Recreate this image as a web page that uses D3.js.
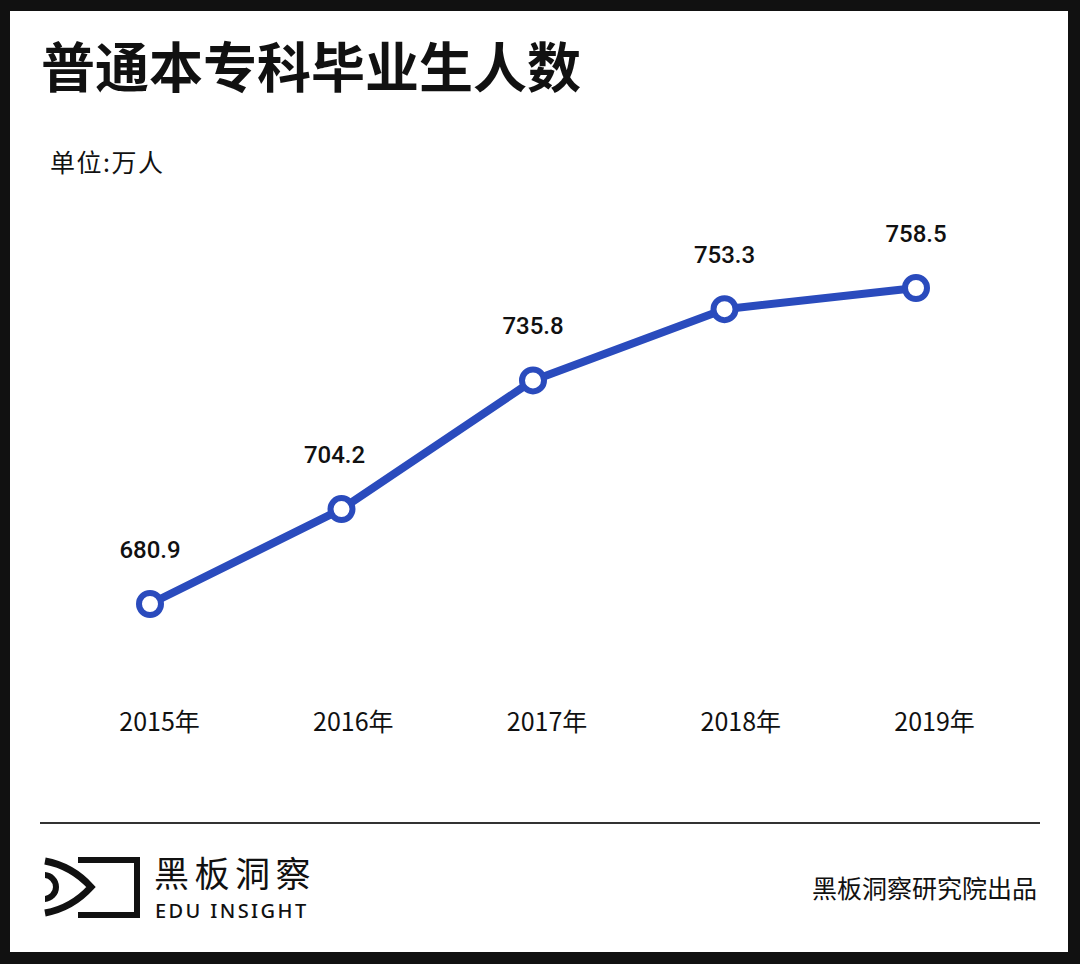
<!DOCTYPE html>
<html>
<head>
<meta charset="utf-8">
<script src="https://cdn.jsdelivr.net/npm/d3@7"></script>
<style>
  html, body { margin: 0; padding: 0; background: #111; }
  svg { display: block; }
</style>
</head>
<body>
<div id="chart"></div>
<script>
// data
const years = ['2015年', '2016年', '2017年', '2018年', '2019年'];
const graduates = [680.9, 704.2, 735.8, 753.3, 758.5];

const W = 1080, H = 964;
const CJK = '"Noto Sans CJK SC", "Noto Sans", sans-serif';

const svg = d3.select('#chart').append('svg')
  .attr('width', W)
  .attr('height', H);

// black frame with white card
svg.append('rect').attr('width', W).attr('height', H).attr('fill', '#111');
svg.append('rect')
  .attr('x', 10).attr('y', 11)
  .attr('width', 1058).attr('height', 941)
  .attr('fill', '#fff');

// title + unit
svg.append('text')
  .attr('x', 41).attr('y', 88)
  .attr('font-family', CJK)
  .attr('font-weight', 700)
  .attr('font-size', 54)
  .attr('fill', '#111')
  .text('普通本专科毕业生人数');

svg.append('text')
  .attr('x', 50).attr('y', 172)
  .attr('font-family', CJK)
  .attr('font-size', 25)
  .attr('letter-spacing', 1.5)
  .attr('fill', '#111')
  .text('单位:万人');

// scales
const x = d3.scalePoint().domain(years).range([150, 916]);
const xLabel = d3.scalePoint().domain(years).range([159, 934]);
const y = d3.scaleLinear().domain([680.9, 758.5]).range([604, 288]);

const data = years.map((yr, i) => ({ year: yr, value: graduates[i] }));
const blue = '#2a4bbd';

const line = d3.line()
  .x(d => x(d.year))
  .y(d => y(d.value));

svg.append('path')
  .datum(data)
  .attr('d', line)
  .attr('fill', 'none')
  .attr('stroke', blue)
  .attr('stroke-width', 8)
  .attr('stroke-linejoin', 'round');

svg.selectAll('circle.pt')
  .data(data)
  .enter()
  .append('circle')
  .attr('class', 'pt')
  .attr('cx', d => x(d.year))
  .attr('cy', d => y(d.value))
  .attr('r', 11)
  .attr('fill', '#fff')
  .attr('stroke', blue)
  .attr('stroke-width', 6);

svg.selectAll('text.val')
  .data(data)
  .enter()
  .append('text')
  .attr('class', 'val')
  .attr('x', d => x(d.year) - (d.year === '2016年' ? 7 : 0))
  .attr('y', d => y(d.value) - 46)
  .attr('text-anchor', 'middle')
  .attr('font-family', 'Roboto, sans-serif')
  .attr('font-weight', 500)
  .attr('font-size', 24)
  .attr('fill', '#111')
  .text(d => d.value.toFixed(1));

// x axis labels (no line, no ticks)
const xAxis = d3.axisBottom(xLabel).tickSize(0).tickPadding(0);
const axisG = svg.append('g')
  .attr('transform', 'translate(0,711)')
  .call(xAxis);
axisG.select('.domain').remove();
axisG.selectAll('text')
  .attr('font-family', CJK)
  .attr('font-size', 25)
  .attr('fill', '#111')
  .attr('dy', '0.8em');

// footer rule
svg.append('line')
  .attr('x1', 40).attr('x2', 1040)
  .attr('y1', 823).attr('y2', 823)
  .attr('stroke', '#333')
  .attr('stroke-width', 2);

// logo
const logo = svg.append('g');
logo.append('path')
  .attr('d', 'M78,860 H137 V915 H78')
  .attr('fill', 'none')
  .attr('stroke', '#111')
  .attr('stroke-width', 6);
logo.append('path')
  .attr('d', 'M45,861 Q72,866 91,887 Q72,908 45,913')
  .attr('fill', 'none')
  .attr('stroke', '#111')
  .attr('stroke-width', 7);
svg.append('clipPath').attr('id', 'eyeClip')
  .append('rect').attr('x', 45).attr('y', 860).attr('width', 40).attr('height', 60);
logo.append('circle')
  .attr('cx', 44).attr('cy', 887).attr('r', 12)
  .attr('fill', 'none')
  .attr('stroke', '#111')
  .attr('stroke-width', 6)
  .attr('clip-path', 'url(#eyeClip)');

svg.append('text')
  .attr('x', 154).attr('y', 887)
  .attr('font-family', CJK)
  .attr('font-size', 35)
  .attr('letter-spacing', 5.5)
  .attr('fill', '#111')
  .text('黑板洞察');

svg.append('text')
  .attr('x', 155).attr('y', 918)
  .attr('font-family', '"Noto Sans", sans-serif')
  .attr('font-weight', 500)
  .attr('font-size', 20)
  .attr('letter-spacing', 2.4)
  .attr('fill', '#111')
  .text('EDU INSIGHT');

svg.append('text')
  .attr('x', 1037).attr('y', 898)
  .attr('text-anchor', 'end')
  .attr('font-family', CJK)
  .attr('font-size', 25)
  .attr('fill', '#111')
  .text('黑板洞察研究院出品');
</script>
</body>
</html>
